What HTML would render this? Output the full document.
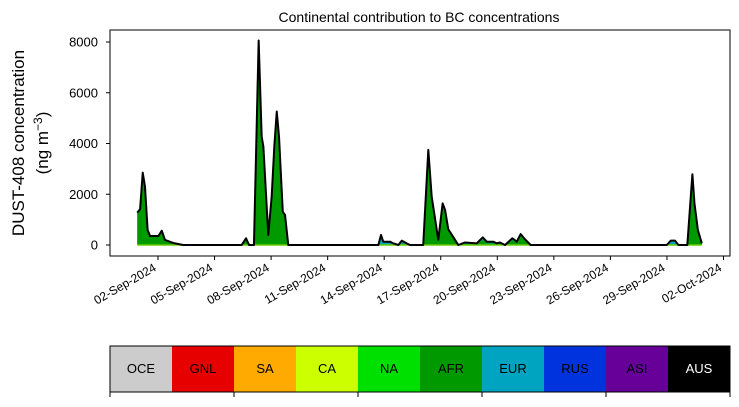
<!DOCTYPE html>
<html><head><meta charset="utf-8"><style>
body{margin:0;background:#fff;font-family:"Liberation Sans",sans-serif}
</style></head><body>
<svg id="s" width="739" height="402" xmlns="http://www.w3.org/2000/svg" font-family="Liberation Sans, sans-serif">
<text x="419" y="22" font-size="14" text-anchor="middle">Continental contribution to BC concentrations</text>
<text transform="translate(24,143) rotate(-90)" font-size="17" text-anchor="middle">DUST-408 concentration</text>
<text transform="translate(48,143) rotate(-90)" font-size="17" text-anchor="middle">(ng m<tspan dy="-6" font-size="12">−3</tspan><tspan dy="6">)</tspan></text>
<g id="plot"></g>
<g id="cbar"></g>
</svg>
<script>
const days=[0.90,1.05,1.19,1.31,1.45,1.58,2.02,2.20,2.37,2.81,3.34,6.44,6.67,6.83,7.09,7.34,7.50,7.59,7.85,8.03,8.17,8.30,8.42,8.62,8.74,8.91,13.69,13.83,13.95,14.31,14.48,14.75,14.93,15.19,15.37,16.07,16.34,16.52,16.87,17.10,17.23,17.40,17.76,17.93,18.29,18.91,19.23,19.44,19.79,19.97,20.14,20.41,20.80,21.03,21.24,21.42,21.77,28.99,29.20,29.43,29.61,30.08,30.35,30.46,30.64,30.85];
const total=[1275,1410,2850,2300,590,355,355,565,200,80,0,0,265,0,0,8060,4270,3880,395,1900,3880,5260,4270,1310,1180,0,0,395,130,130,65,0,170,65,0,0,3750,1900,200,1640,1380,620,200,0,100,65,300,130,130,65,100,0,265,130,430,265,0,0,170,170,0,0,2790,1640,590,65];
const eurShare=[0,0,0,0,0,0,0,0,0,0,0,0,0,0,0,0,0,0,0,0,0,0,0,0,0,0,0,1,1,1,1,0,0.7,0.7,0,0,0,0,0.3,0,0,0,0.3,0,0.6,0.6,0.3,0.5,0.5,0.5,0.5,0,0.3,0.4,0.2,0.2,0,0,1,1,0,0,0,0,0,0];
const yTicks=[0,2000,4000,6000,8000];
const xTickDays=[2,5,8,11,14,17,20,23,26,29,32];
const xTickLabels=["02-Sep-2024","05-Sep-2024","08-Sep-2024","11-Sep-2024","14-Sep-2024","17-Sep-2024","20-Sep-2024","23-Sep-2024","26-Sep-2024","29-Sep-2024","02-Oct-2024"];
const regions=["OCE","GNL","SA","CA","NA","AFR","EUR","RUS","ASI","AUS"];
const regionColors=["#cccccc","#e60000","#ffaa00","#ccff00","#00e000","#009a00","#00a3c0","#0033dd","#660099","#000000"];
const NS="http://www.w3.org/2000/svg";
const X=d=>158+(d-2)*18.85, Y=v=>245-v*203/8000;
function mk(t,a,p){const e=document.createElementNS(NS,t);for(const k in a)e.setAttribute(k,a[k]);(p||document.getElementById('plot')).appendChild(e);return e;}
let afrPts=days.map((d,i)=>X(d)+','+Y(total[i]*(1-eurShare[i])));
let base=X(days[days.length-1])+','+Y(0)+' '+X(days[0])+','+Y(0);
let g=mk('polygon',{points:days.map((d,i)=>X(d)+','+Y(total[i])).join(' ')+' '+base,fill:'#00a3c0'});


let a=mk('polygon',{points:afrPts.join(' ')+' '+base,fill:'#009a00'});


let bl=mk('line',{x1:X(days[0]),x2:X(days[days.length-1]),y1:Y(0),y2:Y(0),stroke:'#66cc00','stroke-width':1.5});


let ln=mk('polyline',{points:days.map((d,i)=>X(d)+','+Y(total[i])).join(' '),fill:'none',stroke:'#000','stroke-width':2,'stroke-linejoin':'round'});


let fr=mk('rect',{x:110,y:30,width:620,height:226,fill:'none',stroke:'#000','stroke-width':1});


yTicks.forEach(v=>{
  let t=mk('line',{x1:106,x2:110,y1:Y(v),y2:Y(v),stroke:'#000'});
  
  
  let l=mk('text',{x:98,y:Y(v)+4.5,'font-size':13,'text-anchor':'end'});l.textContent=v;
  
  
});
xTickDays.forEach((d,i)=>{
  let t=mk('line',{x1:X(d),x2:X(d),y1:256,y2:260,stroke:'#000'});
  
  
  let l=mk('text',{transform:`translate(${X(d)-1},${270}) rotate(-30)`,'font-size':12,'text-anchor':'end'});l.textContent=xTickLabels[i];
  
  
});
const cb=document.getElementById('cbar');
regions.forEach((r,i)=>{
  let c=mk('rect',{x:110+i*62,y:346,width:62,height:46,fill:regionColors[i]},cb);
  
  
  let t=mk('text',{x:141+i*62,y:373,'font-size':13,'text-anchor':'middle',fill:r==='AUS'?'#fff':'#000'},cb);t.textContent=r;
  
  
});
let cf=mk('rect',{x:110,y:346,width:620,height:46,fill:'none',stroke:'#000','stroke-width':1},cb);


[0,2,4,6,8,10].forEach(k=>{
  let t=mk('line',{x1:110+k*62,x2:110+k*62,y1:392,y2:397,stroke:'#000'},cb);
  
  
});
</script>
</body></html>
